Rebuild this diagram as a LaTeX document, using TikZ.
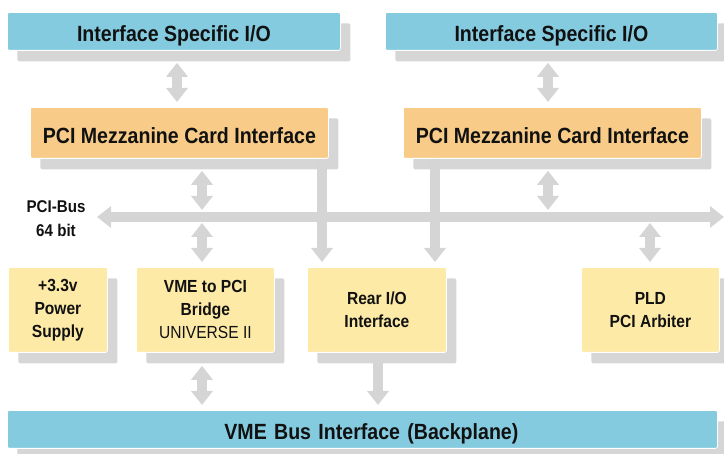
\documentclass[tikz,border=0pt]{standalone}
\usepackage{fontspec}
\setmainfont{Liberation Sans}[FakeStretch=0.89]
\usetikzlibrary{arrows.meta,shadows}
\definecolor{boxblue}{HTML}{84CBE0}
\definecolor{boxorange}{HTML}{F8CC88}
\definecolor{boxyellow}{HTML}{FDEAA7}
\definecolor{shadowgray}{HTML}{D6D6D6}
\definecolor{arrowgray}{HTML}{D5D5D5}
\definecolor{txt}{HTML}{111111}
\tikzset{
  basebox/.style={rectangle, rounded corners=2pt, draw=white, line width=0.8pt,
    anchor=north west, inner sep=0pt, align=center, text=txt,
    drop shadow={shadow xshift=10pt, shadow yshift=-11pt, fill=shadowgray, opacity=1}},
  bigbox/.style={basebox, text height=21pt, text depth=0pt, font=\fontsize{22}{26}\selectfont\bfseries},
  smallbox/.style={basebox, fill=boxyellow, font=\fontsize{17.5}{23}\selectfont\bfseries},
  bluebox/.style={bigbox, fill=boxblue},
  orangebox/.style={bigbox, fill=boxorange},
  conn/.style={draw=arrowgray, line width=9.5pt},
  dbl/.style={conn, {Triangle[width=21pt,length=14pt]}-{Triangle[width=21pt,length=14pt]}},
  sgl/.style={conn, -{Triangle[width=21pt,length=14pt]}},
}
\begin{document}
\begin{tikzpicture}[x=1pt,y=-1pt]
\useasboundingbox (0,0) rectangle (724,454);
% boxes
\node[bluebox, minimum width=333pt, minimum height=38pt] (isoL) at (7,12) {Interface Specific I/O};
\node[bluebox, minimum width=332pt, minimum height=38pt] (isoR) at (385,12) {Interface Specific I/O};
\node[orangebox, minimum width=298pt, minimum height=51pt] (mezzL) at (30,107) {PCI Mezzanine Card Interface};
\node[orangebox, minimum width=298pt, minimum height=51pt] (mezzR) at (403,107) {PCI Mezzanine Card Interface};
\node[smallbox, minimum width=99pt, minimum height=85pt] (psu) at (8,267) {+3.3v\\Power\\Supply};
\node[smallbox, minimum width=138pt, minimum height=85pt] (bridge) at (136,267) {VME to PCI\\Bridge\\{\mdseries UNIVERSE II}};
\node[smallbox, minimum width=139pt, minimum height=85pt] (rear) at (307,267) {Rear I/O\\Interface};
\node[smallbox, minimum width=138pt, minimum height=85pt] (pld) at (581,267) {PLD\\PCI Arbiter};
\node[bluebox, minimum width=710pt, minimum height=38pt, text width=710pt] (vme) at (7,410) {\hspace*{18pt}VME Bus Interface (Backplane)};
\node[align=center, text=txt, font=\fontsize{17}{24}\selectfont\bfseries] (buslabel) at (56,219) {PCI-Bus\\64 bit};
% bus coordinates
\coordinate (busL) at (97,217);
\coordinate (busR) at (724,217);
\coordinate (xA) at (177,0);
\coordinate (xB) at (202,0);
\coordinate (xC) at (548,0);
\coordinate (xR1) at (322,0);
\coordinate (xR2) at (435,0);
\coordinate (xP) at (650,0);
\coordinate (xV) at (378,0);
% connectors
\draw[dbl] (busL) -- (busR);
\draw[dbl, shorten <=12pt, shorten >=5pt] (isoL.south -| xA) -- (mezzL.north -| xA);
\draw[dbl, shorten <=12pt, shorten >=5pt] (isoR.south -| xC) -- (mezzR.north -| xC);
\draw[dbl, shorten <=12pt, shorten >=7pt] (mezzL.south -| xB) -- (busL -| xB);
\draw[dbl, shorten <=12pt, shorten >=7pt] (mezzR.south -| xC) -- (busL -| xC);
\draw[dbl, shorten <=6pt, shorten >=5pt] (busL -| xB) -- (bridge.north -| xB);
\draw[dbl, shorten <=6pt, shorten >=5pt] (busL -| xP) -- (pld.north -| xP);
\draw[sgl, shorten >=5pt] (mezzL.south -| xR1) -- (rear.north -| xR1);
\draw[sgl, shorten >=5pt] (mezzR.south -| xR2) -- (rear.north -| xR2);
\draw[dbl, shorten <=13pt, shorten >=5pt] (bridge.south -| xB) -- (vme.north -| xB);
\draw[sgl, shorten <=10pt, shorten >=5pt] (rear.south -| xV) -- (vme.north -| xV);
\end{tikzpicture}
\end{document}
